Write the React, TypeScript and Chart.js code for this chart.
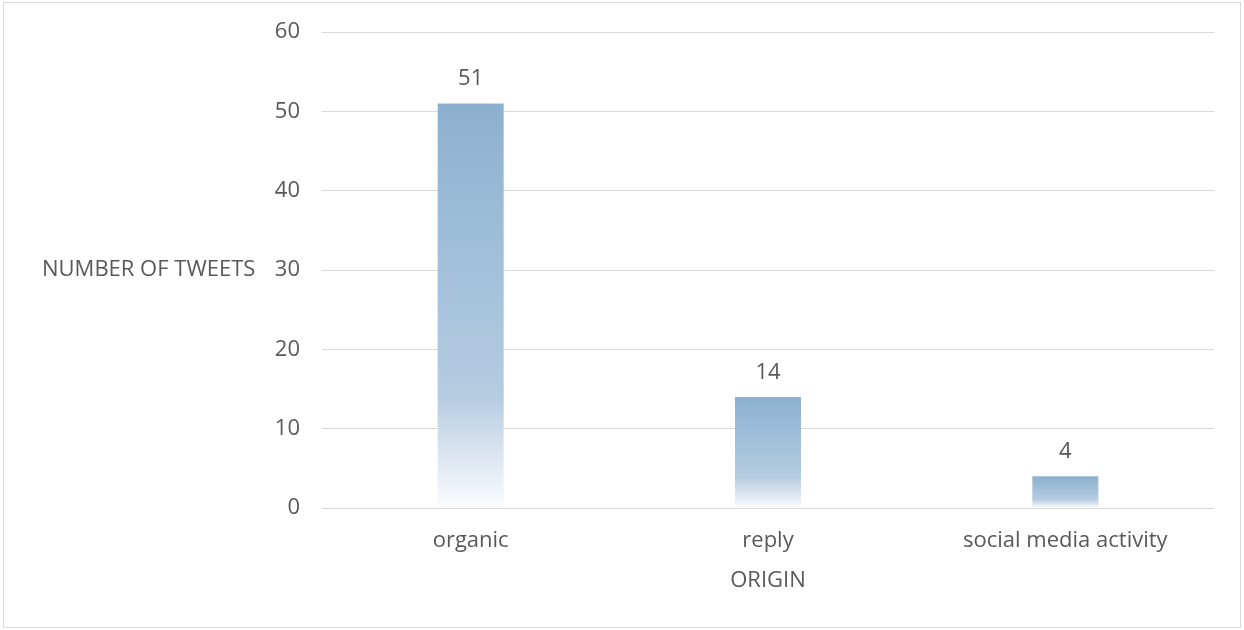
import React, { useEffect, useRef } from "react";
import { Chart, registerables } from "chart.js";

Chart.register(...registerables);

const categories = ["organic", "reply", "social media activity"];
const tweetCounts = [51, 14, 4];
const yTicks = [0, 10, 20, 30, 40, 50, 60];
const yAxisTitle = "NUMBER OF TWEETS";
const xAxisTitle = "ORIGIN";

const FONT = "'Open Sans', sans-serif";
const TEXT = "#595959";
const FS = 22;

const labelsPlugin = {
  id: "customLabels",
  afterDatasetsDraw(chart: any) {
    const { ctx, chartArea } = chart;
    const meta = chart.getDatasetMeta(0);
    ctx.save();
    ctx.fillStyle = TEXT;
    ctx.font = `${FS}px ${FONT}`;
    ctx.textAlign = "center";
    ctx.textBaseline = "alphabetic";
    meta.data.forEach((bar: any, i: number) => {
      ctx.fillText(String(tweetCounts[i]), bar.x, bar.y - 18);
    });
    // y title (horizontal)
    ctx.textAlign = "left";
    ctx.textBaseline = "middle";
    ctx.fillText(yAxisTitle, 42, (chartArea.top + chartArea.bottom) / 2);
    // x title
    ctx.textAlign = "center";
    ctx.textBaseline = "alphabetic";
    ctx.fillText(xAxisTitle, (chartArea.left + chartArea.right) / 2, 587);
    ctx.restore();
  },
};

export default function App() {
  const canvasRef = useRef<HTMLCanvasElement | null>(null);

  useEffect(() => {
    if (!canvasRef.current) return;
    const chart = new Chart(canvasRef.current, {
      type: "bar",
      data: {
        labels: categories,
        datasets: [
          {
            label: yAxisTitle,
            data: tweetCounts,
            barPercentage: 0.222,
            categoryPercentage: 1,
            borderWidth: 0,
            backgroundColor: (c: any) => {
              const ch = c.chart;
              const { ctx, chartArea, scales } = ch;
              if (!chartArea || !scales.y) return "rgb(141,176,207)";
              const v = c.raw ?? 0;
              const top = scales.y.getPixelForValue(v);
              const bottom = scales.y.getPixelForValue(0);
              const g = ctx.createLinearGradient(0, top, 0, bottom);
              g.addColorStop(0, "rgb(141,176,207)");
              g.addColorStop(0.5, "rgb(168,196,221)");
              g.addColorStop(0.72, "rgb(181,203,224)");
              g.addColorStop(0.88, "rgb(222,231,241)");
              g.addColorStop(1, "rgb(250,252,254)");
              return g;
            },
          },
        ],
      },
      options: {
        responsive: false,
        animation: false,
        layout: { padding: { top: 32, right: 30, bottom: 0, left: 0 } },
        plugins: {
          legend: { display: false },
          tooltip: { enabled: false },
        },
        scales: {
          x: {
            grid: { display: false, drawTicks: false },
            border: { display: false },
            ticks: {
              color: TEXT,
              font: { family: FONT, size: FS },
              padding: 20,
              maxRotation: 0,
            },
            afterFit: (s: any) => {
              s.height = 122;
              s.paddingLeft = 0;
              s.paddingRight = 0;
            },
          },
          y: {
            min: 0,
            max: 60,
            afterBuildTicks: (s: any) => {
              s.ticks = yTicks.map((v) => ({ value: v }));
            },
            grid: { color: "#D9D9D9", lineWidth: 1, drawTicks: false },
            border: { display: false },
            ticks: {
              color: TEXT,
              font: { family: FONT, size: FS },
              padding: 22,
            },
            afterFit: (s: any) => {
              s.width = 322;
              s.paddingTop = 0;
              s.paddingBottom = 0;
            },
          },
        },
      },
      plugins: [labelsPlugin],
    });
    return () => chart.destroy();
  }, []);

  return (
    <div
      style={{
        position: "fixed",
        left: 0,
        top: 0,
        width: 1244,
        height: 630,
        background: "#ffffff",
      }}
    >
      <div
        style={{
          position: "absolute",
          left: 3,
          top: 2,
          width: 1236,
          height: 624,
          border: "1px solid #D9D9D9",
        }}
      />
      <canvas
        ref={canvasRef}
        width={1244}
        height={630}
        style={{ position: "absolute", left: 0, top: 0 }}
      />
    </div>
  );
}
